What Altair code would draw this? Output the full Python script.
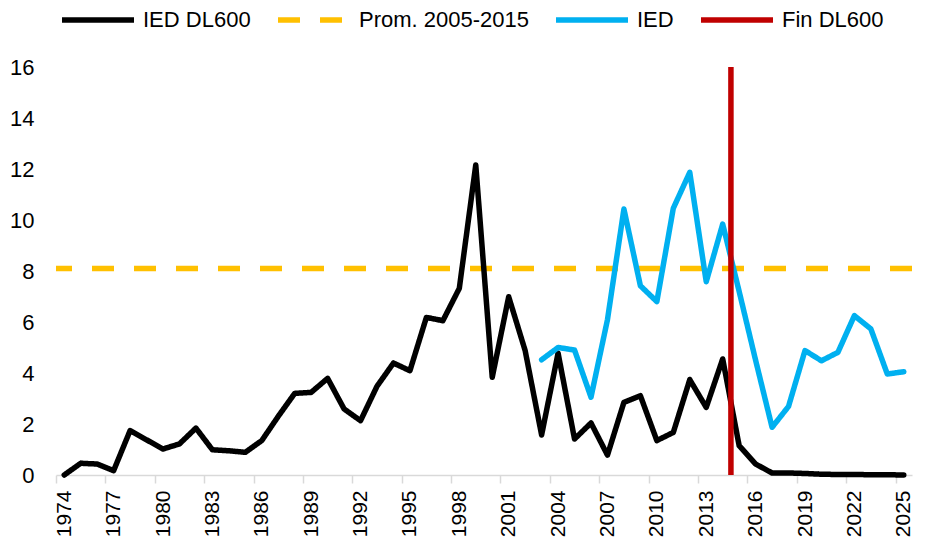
import altair as alt
import pandas as pd

years = list(range(1974, 2026))
ied_dl600 = [0.0, 0.46, 0.43, 0.17, 1.74, 1.38, 1.02, 1.22, 1.84, 0.99,
             0.95, 0.89, 1.35, 2.3, 3.2, 3.24, 3.79, 2.59, 2.13, 3.48,
             4.39, 4.09, 6.18, 6.05, 7.32, 12.16, 3.83, 6.99, 4.88, 1.57,
             4.78, 1.41, 2.04, 0.78, 2.85, 3.11, 1.35, 1.67, 3.74, 2.65,
             4.55, 1.15, 0.43, 0.08, 0.08, 0.06, 0.03, 0.02, 0.02, 0.01,
             0.01, 0.0]
ied_years = list(range(2003, 2026))
ied = [4.52, 5.0, 4.9, 3.05, 6.09, 10.43, 7.42, 6.8, 10.46, 11.87,
       7.58, 9.84, 7.2, 4.5, 1.87, 2.69, 4.88, 4.48, 4.81, 6.25,
       5.73, 3.96, 4.05]
prom_2005_2015 = 8.1
fin_dl600_year = 2014.5
tick_years = list(range(1974, 2026, 3))
y_ticks = list(range(0, 17, 2))
series = ["IED DL600", "Prom. 2005-2015", "IED", "Fin DL600"]
colors = ["#000000", "#FFC000", "#00B0F0", "#C00000"]
dashes = [[1, 0], [22, 20], [1, 0], [1, 0]]

df_black = pd.DataFrame({"year": years, "v": ied_dl600, "serie": series[0]})
df_blue = pd.DataFrame({"year": ied_years, "v": ied, "serie": series[2]})
df_avg = pd.DataFrame({"v": [prom_2005_2015], "serie": [series[1]]})
df_fin = pd.DataFrame({"year": [fin_dl600_year], "serie": [series[3]]})

W = 856
H = 408
half = W / 52 / 2
FONT = "Liberation Sans, Arial, sans-serif"

legend = alt.Legend(
    orient="none", legendX=3, legendY=-86, direction="horizontal", columns=4,
    title=None, symbolType="stroke", symbolSize=72 * 72, symbolStrokeWidth=5.5,
    labelFont=FONT, labelFontSize=22, labelColor="black", labelOffset=6,
    columnPadding=16, labelLimit=400,
)
color = alt.Color("serie:N", scale=alt.Scale(domain=series, range=colors), legend=legend)
dash = alt.StrokeDash("serie:N", scale=alt.Scale(domain=series, range=dashes), legend=legend)

x_enc = alt.X(
    "year:Q",
    scale=alt.Scale(domain=[1973.5, 2025.5], nice=False, zero=False),
    axis=alt.Axis(
        values=tick_years, format="d", labelAngle=-90, tickOffset=-half, labelOffset=half,
        tickSize=8, tickColor="#d9d9d9", tickWidth=1.5, domainColor="#d9d9d9", domainWidth=1.5,
        labelFont=FONT, labelFontSize=21, labelColor="black", labelPadding=7,
        labelFlush=False, labelOverlap=False, grid=False, title=None,
    ),
)
y_enc = alt.Y(
    "v:Q",
    scale=alt.Scale(domain=[0, 16], nice=False, zero=True),
    axis=alt.Axis(
        values=y_ticks, domain=False, ticks=False, grid=False, labelPadding=22,
        labelFont=FONT, labelFontSize=22, labelColor="black", title=None,
    ),
)

avg_layer = alt.Chart(df_avg).mark_rule(strokeWidth=5.5).encode(
    y=y_enc, color=color, strokeDash=dash
)
black_layer = alt.Chart(df_black).mark_line(strokeWidth=5.5, strokeJoin="round", strokeCap="round").encode(
    x=x_enc, y=y_enc, color=color, strokeDash=dash
)
blue_layer = alt.Chart(df_blue).mark_line(strokeWidth=5.5, strokeJoin="round", strokeCap="round").encode(
    x="year:Q", y="v:Q", color=color, strokeDash=dash
)
fin_layer = alt.Chart(df_fin).mark_rule(strokeWidth=5.5).encode(
    x="year:Q", color=color, strokeDash=dash
)

chart = alt.layer(avg_layer, black_layer, blue_layer, fin_layer).properties(
    width=W, height=H,
    autosize=alt.AutoSizeParams(type="none"),
    padding={"left": 48, "top": 59, "right": 5, "bottom": 63},
).configure_view(stroke=None)

chart.save("out.html", embed_options={"renderer": "svg", "actions": False})
